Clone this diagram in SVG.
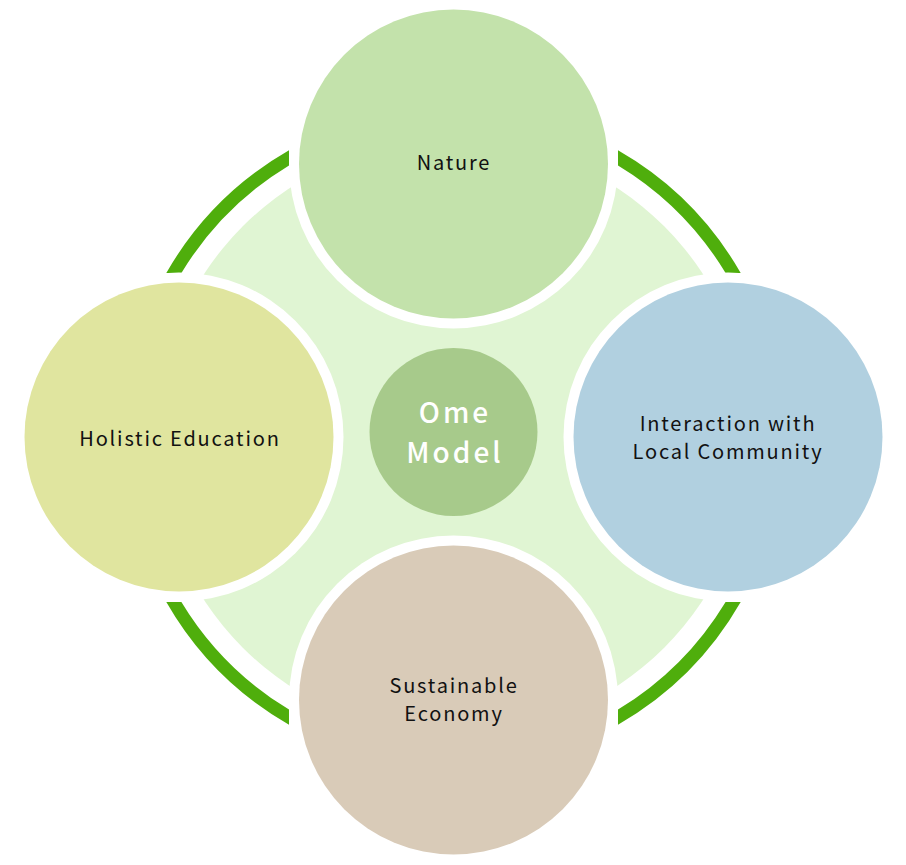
<svg xmlns="http://www.w3.org/2000/svg" width="906" height="865" viewBox="0 0 906 865">
<style>
.halo{fill:#ffffff}
.ring{fill:#4fae0c}
.lbl{font-family:"Noto Sans CJK JP","Noto Sans",sans-serif;font-size:20px;fill:#111111;text-anchor:middle;letter-spacing:1.8px}
.ctr{font-family:"Noto Sans CJK JP","Noto Sans",sans-serif;font-size:28px;font-weight:500;fill:#ffffff;text-anchor:middle;letter-spacing:3px}
</style>
<rect width="906" height="865" fill="#ffffff"/>
<g id="background">
<circle cx="453.5" cy="437" r="298" fill="#e0f5d3"/>
</g>
<g id="connectors">
<path class="ring" d="M166.3 273 A331 331 0 0 1 289 150.3 L289 165.4 A318 318 0 0 0 181.4 273 Z"/>
<path class="ring" d="M740.7 273 A331 331 0 0 0 618 150.3 L618 165.4 A318 318 0 0 1 725.6 273 Z"/>
<path class="ring" d="M166.3 602 A331 331 0 0 0 289 724.7 L289 709.6 A318 318 0 0 1 181.4 602 Z"/>
<path class="ring" d="M740.7 602 A331 331 0 0 1 618 724.7 L618 709.6 A318 318 0 0 0 725.6 602 Z"/>
</g>
<g id="nature">
<circle class="halo" cx="453.5" cy="164" r="164.5"/>
<circle cx="453.5" cy="164" r="154.5" fill="#c3e2ab"/>
<text class="lbl" x="454" y="170">Nature</text>
</g>
<g id="holistic-education">
<circle class="halo" cx="179" cy="437" r="164.5"/>
<circle cx="179" cy="437" r="154.5" fill="#e0e59f"/>
<text class="lbl" x="180" y="446">Holistic Education</text>
</g>
<g id="interaction">
<circle class="halo" cx="728" cy="437" r="164.5"/>
<circle cx="728" cy="437" r="154.5" fill="#b1d0e0"/>
<text class="lbl" x="728" y="431">Interaction with</text>
<text class="lbl" x="728" y="459">Local Community</text>
</g>
<g id="sustainable-economy">
<circle class="halo" cx="453.5" cy="700" r="164.5"/>
<circle cx="453.5" cy="700" r="154.5" fill="#d9cbb8"/>
<text class="lbl" x="454" y="693">Sustainable</text>
<text class="lbl" x="454" y="721">Economy</text>
</g>
<g id="ome-model">
<circle cx="453.5" cy="432" r="84" fill="#a7ca8b"/>
<text class="ctr" x="455" y="423">Ome</text>
<text class="ctr" x="455" y="463">Model</text>
</g>
</svg>
